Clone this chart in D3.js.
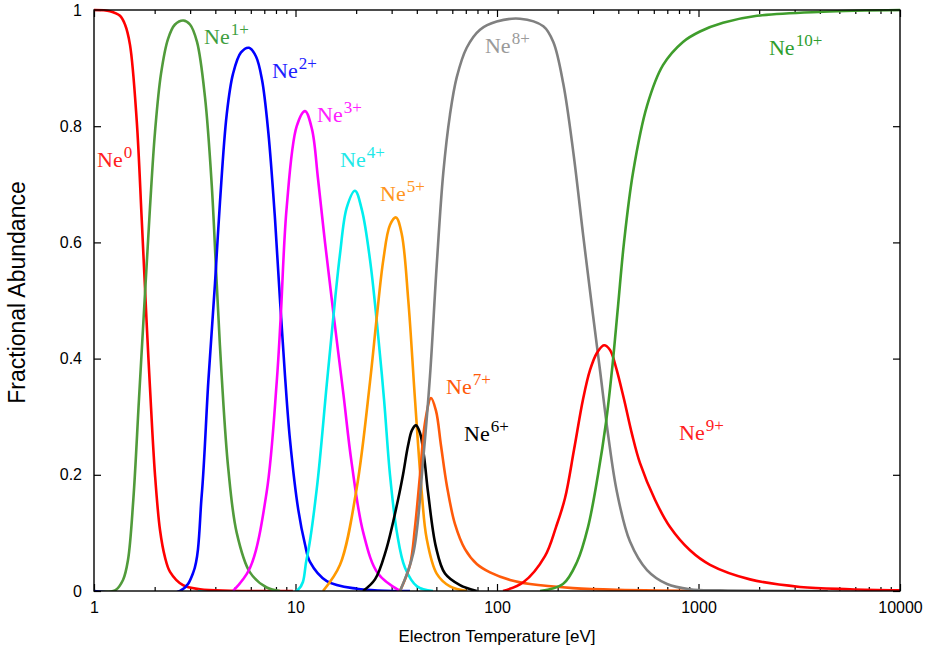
<!DOCTYPE html>
<html>
<head>
<meta charset="utf-8">
<script src="https://cdn.jsdelivr.net/npm/d3@7"></script>
<style>
  body { margin: 0; background: #fff; }
  .tick text { font-family: "Liberation Sans", Arial, sans-serif; font-size: 16px; fill: #000; }
  .tick line { stroke: #000; stroke-width: 1.2; }
  .ion { font-family: "Liberation Serif", "DejaVu Serif", serif; font-size: 22px; }
</style>
</head>
<body>
<script>
// fractional abundance of neon ions vs electron temperature [eV]
var ne0  = [[1,1],[1.2,0.998],[1.346,0.99],[1.425,0.975],[1.509,0.94],[1.629,0.81],[1.725,0.64],[1.826,0.46],[1.896,0.35],[2.008,0.2],[2.126,0.105],[2.251,0.058],[2.384,0.033],[2.765,0.01],[3.357,0.003],[4.73,0.0005],[9.7,0]];
var ne1  = [[1,0],[1.271,0.001],[1.393,0.019],[1.474,0.053],[1.567,0.157],[1.672,0.33],[1.791,0.512],[1.896,0.66],[2.008,0.79],[2.15,0.89],[2.329,0.95],[2.523,0.975],[2.775,0.982],[2.995,0.975],[3.245,0.945],[3.555,0.85],[3.838,0.7],[4.064,0.53],[4.302,0.37],[4.64,0.21],[5.109,0.1],[5.945,0.032],[7.194,0.006],[8.379,0]];
var ne2  = [[1,0],[2.672,0],[3.11,0.032],[3.423,0.164],[3.692,0.36],[3.986,0.53],[4.22,0.67],[4.556,0.82],[4.896,0.89],[5.364,0.927],[5.878,0.935],[6.368,0.92],[6.82,0.88],[7.328,0.79],[7.914,0.64],[8.379,0.5],[8.871,0.37],[9.391,0.26],[10.32,0.14],[11.15,0.08],[11.8,0.05],[14.29,0.017],[20.12,0.004],[37,0]];
var ne3  = [[4.9,0],[5.95,0.04],[7.19,0.17],[8.07,0.36],[8.44,0.47],[9.04,0.66],[10.14,0.8],[11.15,0.826],[12.07,0.795],[12.93,0.71],[14.01,0.6],[15.4,0.48],[17.27,0.34],[19.0,0.22],[21.71,0.1],[25.67,0.03],[33.01,0]];
var ne4  = [[3.28,0],[10.14,0],[11.36,0.055],[12.74,0.175],[14.29,0.355],[15.7,0.5],[16.63,0.58],[17.96,0.66],[19.74,0.689],[21.38,0.655],[23.43,0.57],[25.38,0.46],[27.5,0.33],[29.44,0.2],[31.89,0.1],[34.95,0.04],[40.09,0.008],[48.13,0]];
var ne5  = [[13.69,0],[16.63,0.045],[20.12,0.177],[23.43,0.36],[25.29,0.47],[27.28,0.57],[29.44,0.63],[31.54,0.643],[33.65,0.615],[36.29,0.5],[39.17,0.33],[42.3,0.17],[44.78,0.09],[50.2,0.03],[58.44,0.008],[70.98,0]];
var ne6  = [[21.63,0],[24.8,0.02],[28.12,0.07],[32.27,0.157],[34.16,0.2],[36.17,0.25],[37.86,0.277],[39.63,0.285],[41.49,0.272],[43.43,0.232],[45.47,0.17],[49.82,0.075],[55.2,0.03],[65.52,0.01],[79.31,0]];
var ne7  = [[33.01,0],[37,0.045],[39.18,0.11],[41.49,0.2],[43.93,0.29],[47.05,0.332],[49.82,0.31],[52.75,0.25],[56.48,0.18],[61.88,0.115],[69.36,0.072],[79.57,0.046],[92.33,0.032],[116,0.019],[145.8,0.012],[238.4,0.005],[393.9,0.002],[1330,0]];
var ne8  = [[33.01,0],[38.42,0.065],[43.08,0.229],[46.5,0.37],[50.2,0.56],[54.14,0.72],[58.44,0.82],[63.1,0.884],[70.74,0.935],[82.34,0.966],[99.65,0.98],[130,0.985],[169.8,0.972],[190.3,0.945],[213.3,0.873],[239.2,0.755],[268.2,0.61],[299.5,0.475],[324.5,0.38],[355.6,0.27],[393.9,0.17],[457.1,0.085],[555.2,0.036],[698,0.012],[907.5,0.003],[1279,0.001],[4380,0]];
var ne9  = [[107.1,0],[135.1,0.015],[173,0.06],[196.3,0.11],[217.6,0.16],[241.1,0.243],[267.3,0.33],[289.4,0.38],[313.6,0.41],[339.6,0.423],[363.8,0.415],[389.5,0.385],[426.9,0.33],[467.7,0.27],[512.6,0.22],[608.3,0.157],[722.3,0.11],[907.5,0.07],[1141,0.045],[1801,0.02],[3190,0.007],[5649,0.003],[10000,0.001]];
var ne10 = [[163.5,0],[212.5,0.012],[249.5,0.05],[282.9,0.11],[317.1,0.2],[347.5,0.29],[372.1,0.38],[398.6,0.49],[426.9,0.6],[473.1,0.72],[555.2,0.835],[666.4,0.905],[837.6,0.945],[1017,0.963],[1323,0.978],[1951,0.99],[4149,0.997],[10000,1]];

var series = [ne0, ne1, ne2, ne3, ne4, ne5, ne6, ne7, ne8, ne9, ne10];
var colors = ['#ff0000', '#519b3b', '#0000ff', '#ff00ff', '#00eeee', '#ff9900', '#000000', '#ff5a0a', '#808080', '#ff0000', '#3f9d2c'];
var labelColors = ['#ff2020', '#3f9f3f', '#2020ff', '#ff20ff', '#20e8e8', '#ff9520', '#000000', '#ff5a0a', '#9a9a9a', '#ff2020', '#2e9e2e'];
var charges = ['0', '1+', '2+', '3+', '4+', '5+', '6+', '7+', '8+', '9+', '10+'];
// label anchors in data units (temperature, abundance)
var labelT = [1.035, 3.515, 7.645, 12.79, 16.63, 26.27, 68.59, 55.84, 87.18, 800.3, 2238];
var labelV = [0.730, 0.9415, 0.883, 0.807, 0.7298, 0.6713, 0.258, 0.339, 0.926, 0.26, 0.9225];

var xMajor = [1, 10, 100, 1000, 10000];
var yTicks = [0, 0.2, 0.4, 0.6, 0.8, 1];

var margin = {top: 10, right: 30, bottom: 59, left: 94},
    width = 930 - margin.left - margin.right,
    height = 650 - margin.top - margin.bottom;

var svg = d3.select('body').append('svg')
    .attr('width', 930)
    .attr('height', 650);

var canvas = svg.append('g')
    .attr('transform', 'translate(' + margin.left + ',' + margin.top + ')');

var x = d3.scaleLog().domain([1, 10000]).range([0, width]);
var y = d3.scaleLinear().domain([0, 1]).range([height, 0]);

var xMinor = [];
xMajor.slice(0, -1).forEach(function (d) {
    for (var k = 2; k < 10; k++) xMinor.push(d * k);
});

function yFmt(d) {
    return d === 0 || d === 1 ? String(d) : d.toFixed(1);
}

// axes, ticks pointing inwards on all four sides
canvas.append('g').attr('transform', 'translate(0,' + height + ')')
    .call(d3.axisBottom(x).tickValues(xMajor).tickSize(-7).tickPadding(11).tickFormat(d3.format('d')));
canvas.append('g').attr('transform', 'translate(0,' + height + ')')
    .call(d3.axisBottom(x).tickValues(xMinor).tickSize(-4).tickFormat(''));
canvas.append('g')
    .call(d3.axisTop(x).tickValues(xMajor).tickSize(-7).tickFormat(''));
canvas.append('g')
    .call(d3.axisTop(x).tickValues(xMinor).tickSize(-4).tickFormat(''));
canvas.append('g')
    .call(d3.axisLeft(y).tickValues(yTicks).tickSize(-7).tickPadding(12).tickFormat(yFmt));
canvas.append('g').attr('transform', 'translate(' + width + ',0)')
    .call(d3.axisRight(y).tickValues(yTicks).tickSize(-7).tickFormat(''));
canvas.selectAll('.domain').remove();

canvas.append('clipPath').attr('id', 'clip')
    .append('rect').attr('y', -2).attr('width', width).attr('height', height + 2);

var line = d3.line()
    .x(function (d) { return x(d[0]); })
    .y(function (d) { return y(d[1]); })
    .curve(d3.curveCatmullRom.alpha(0.5));

canvas.append('g').attr('clip-path', 'url(#clip)')
    .selectAll('path')
    .data(series)
    .enter()
    .append('path')
    .attr('d', line)
    .attr('fill', 'none')
    .attr('stroke', function (d, i) { return colors[i]; })
    .attr('stroke-width', 2.6)
    .attr('stroke-linejoin', 'round');

canvas.append('rect')
    .attr('width', width)
    .attr('height', height)
    .attr('fill', 'none')
    .attr('stroke', '#000')
    .attr('stroke-width', 1.4);

var labels = canvas.selectAll('.ion')
    .data(charges)
    .enter()
    .append('text')
    .attr('class', 'ion')
    .attr('x', function (d, i) { return x(labelT[i]); })
    .attr('y', function (d, i) { return y(labelV[i]); })
    .attr('fill', function (d, i) { return labelColors[i]; });
labels.append('tspan').text('Ne');
labels.append('tspan')
    .attr('dy', -9)
    .attr('dx', 1)
    .attr('font-size', 17)
    .text(function (d) { return d; });

svg.append('text')
    .attr('transform', 'translate(25,' + (margin.top + height / 2 - 8) + ') rotate(-90)')
    .attr('text-anchor', 'middle')
    .attr('font-family', '"Liberation Sans", Arial, sans-serif')
    .attr('font-size', 23)
    .text('Fractional Abundance');

svg.append('text')
    .attr('x', margin.left + width / 2)
    .attr('y', 642)
    .attr('text-anchor', 'middle')
    .attr('font-family', '"Liberation Sans", Arial, sans-serif')
    .attr('font-size', 17)
    .text('Electron Temperature [eV]');
</script>
</body>
</html>
